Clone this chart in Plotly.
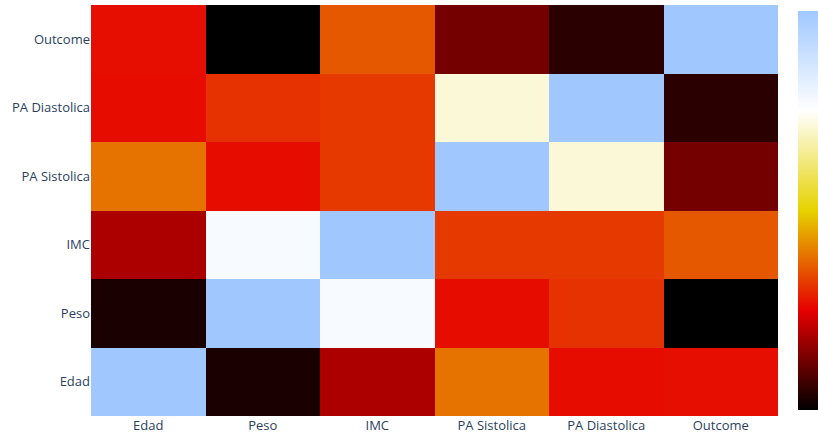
import plotly.graph_objects as go

# Variables of the clinical dataset
variables = ["Edad", "Peso", "IMC", "PA Sistolica", "PA Diastolica", "Outcome"]

# Pairwise correlation coefficients, one row per variable (same order as columns)
corr_edad = [1.000, -0.117, 0.065, 0.294, 0.155, 0.157]
corr_peso = [-0.117, 1.000, 0.737, 0.154, 0.205, -0.150]
corr_imc = [0.065, 0.737, 1.000, 0.215, 0.215, 0.258]
corr_pa_sis = [0.294, 0.154, 0.215, 1.000, 0.667, -0.004]
corr_pa_dia = [0.155, 0.205, 0.215, 0.667, 1.000, -0.097]
corr_outcome = [0.157, -0.150, 0.258, -0.004, -0.097, 1.000]

z = [corr_edad, corr_peso, corr_imc, corr_pa_sis, corr_pa_dia, corr_outcome]

fig = go.Figure(
    go.Heatmap(
        z=z,
        x=variables,
        y=variables,
        colorscale="Blackbody",
        colorbar=dict(
            thickness=20,
            len=1,
            x=1.0146,
            xanchor="left",
            xpad=10,
            ypad=6,
            outlinewidth=0,
            showticklabels=False,
        ),
    )
)

fig.update_layout(
    width=818,
    height=436,
    margin=dict(l=91, r=40, t=5, b=20, autoexpand=False),
    template="plotly",
    font=dict(family="Open Sans, Verdana, Arial, sans-serif", size=13, color="#2a3f5f"),
    plot_bgcolor="white",
    paper_bgcolor="white",
)

fig.write_html("out.html")
